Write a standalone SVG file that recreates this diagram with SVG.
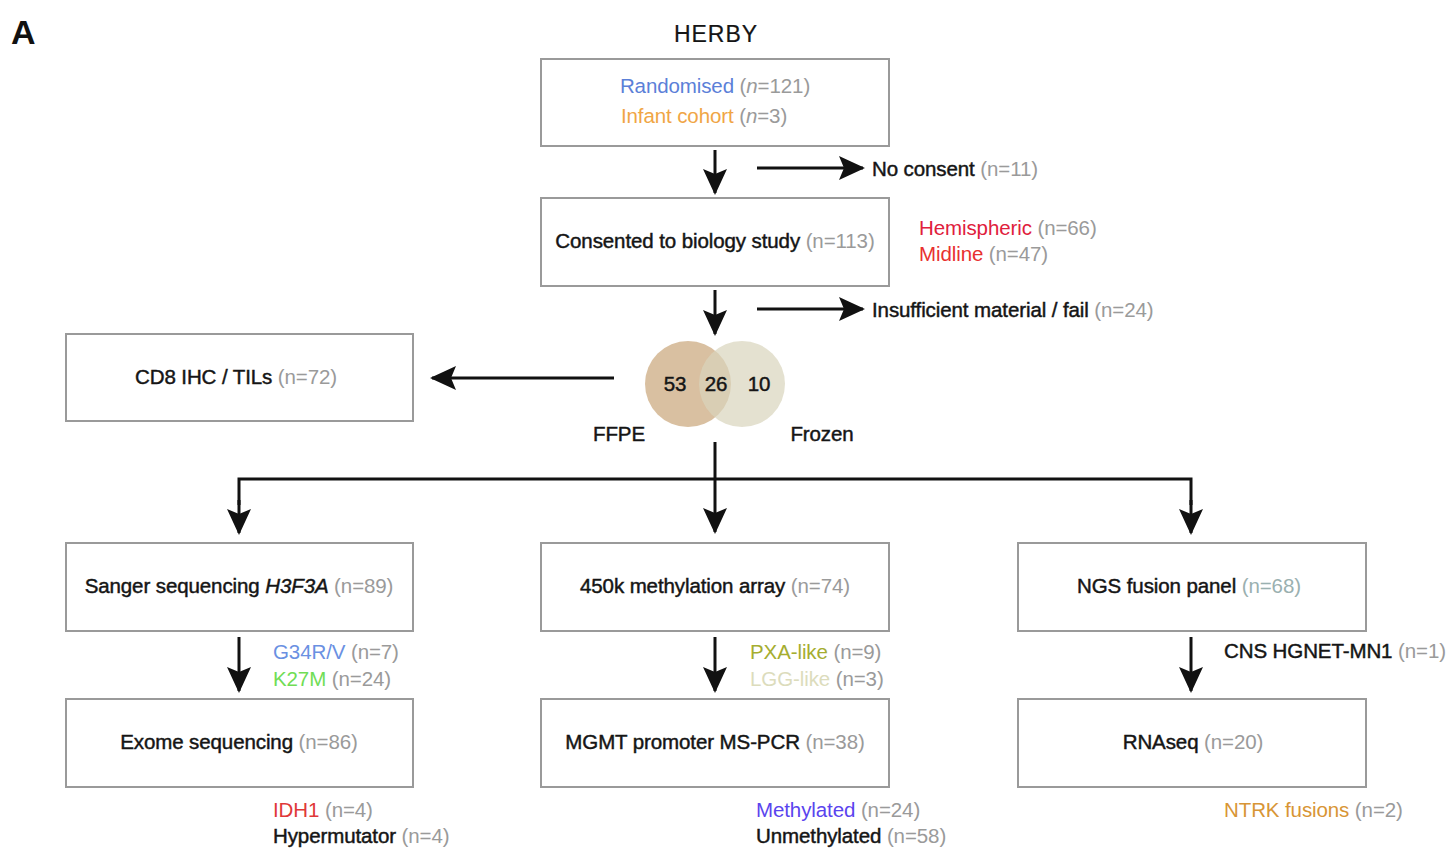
<svg xmlns="http://www.w3.org/2000/svg" width="1450" height="848" viewBox="0 0 1450 848">
<defs>
<marker id="ah" markerUnits="userSpaceOnUse" markerWidth="26" markerHeight="26" viewBox="0 0 26 26" refX="24" refY="13" orient="auto">
<path d="M0,1 L26,13 L0,25 L5,13 Z" fill="#111"/>
</marker>
<style>
.box{fill:#fff;stroke:#9a9a9a;stroke-width:2}
.t{font-family:"Liberation Sans",Arial,sans-serif;font-size:20.5px;fill:#151515;stroke:#151515;stroke-width:0.45px;letter-spacing:-0.1px}
.n{fill:#9a9a9a;stroke:none}
.k{stroke:none}
.c{stroke:#111;stroke-width:3;fill:none}
.ca{stroke:#111;stroke-width:3;fill:none;marker-end:url(#ah)}
</style>
</defs>
<rect width="1450" height="848" fill="#fff"/>
<text x="11" y="44" font-family="Liberation Sans,Arial,sans-serif" font-size="34" font-weight="bold" fill="#111">A</text>
<text x="716" y="42" text-anchor="middle" class="t" style="font-size:23px;letter-spacing:1px;stroke-width:0.2px">HERBY</text>

<g id="connectors">
<line class="ca" x1="715" y1="150" x2="715" y2="193"/>
<line class="ca" x1="757" y1="168" x2="863" y2="168"/>
<line class="ca" x1="715" y1="290" x2="715" y2="334"/>
<line class="ca" x1="757" y1="309" x2="863" y2="309"/>
<line class="ca" x1="614" y1="378" x2="432" y2="378"/>
<line class="ca" x1="715" y1="442" x2="715" y2="532"/>
<polyline class="c" points="239,505 239,479 1191,479 1191,505"/>
<line class="ca" x1="239" y1="500" x2="239" y2="533"/>
<line class="ca" x1="1191" y1="500" x2="1191" y2="533"/>
<line class="ca" x1="239" y1="637" x2="239" y2="691"/>
<line class="ca" x1="715" y1="637" x2="715" y2="691"/>
<line class="ca" x1="1191" y1="637" x2="1191" y2="691"/>
</g>

<g id="herby">
<rect class="box" x="541" y="59" width="348" height="87"/>
<text x="715" y="93" text-anchor="middle" class="t k"><tspan fill="#5b80d8">Randomised</tspan><tspan class="n"> (<tspan font-style="italic">n</tspan>=121)</tspan></text>
<text x="704" y="123" text-anchor="middle" class="t k"><tspan fill="#f0a545">Infant cohort</tspan><tspan class="n"> (<tspan font-style="italic">n</tspan>=3)</tspan></text>
</g>

<g id="noconsent">
<text x="872" y="176" class="t">No consent<tspan class="n"> (n=11)</tspan></text>
</g>

<g id="consented">
<rect class="box" x="541" y="198" width="348" height="88"/>
<text x="715" y="248" text-anchor="middle" class="t">Consented to biology study<tspan class="n"> (n=113)</tspan></text>
</g>

<g id="location">
<text x="919" y="235" class="t k"><tspan fill="#e0203c">Hemispheric</tspan><tspan class="n"> (n=66)</tspan></text>
<text x="919" y="261" class="t k"><tspan fill="#e83030">Midline</tspan><tspan class="n"> (n=47)</tspan></text>
</g>

<g id="insufficient">
<text x="872" y="317" class="t">Insufficient material / fail<tspan class="n"> (n=24)</tspan></text>
</g>

<g id="venn">
<circle cx="688" cy="384" r="43" fill="#cfb089" fill-opacity="0.8"/>
<circle cx="742" cy="384" r="43" fill="#d8d4bc" fill-opacity="0.7"/>
<text x="675" y="391" text-anchor="middle" class="t">53</text>
<text x="716" y="391" text-anchor="middle" class="t">26</text>
<text x="759" y="391" text-anchor="middle" class="t">10</text>
<text x="619" y="441" text-anchor="middle" class="t">FFPE</text>
<text x="822" y="441" text-anchor="middle" class="t">Frozen</text>
</g>

<g id="cd8">
<rect class="box" x="66" y="334" width="347" height="87"/>
<text x="236" y="384" text-anchor="middle" class="t">CD8 IHC / TILs<tspan class="n"> (n=72)</tspan></text>
</g>

<g id="sanger">
<rect class="box" x="66" y="543" width="347" height="88"/>
<text x="239" y="593" text-anchor="middle" class="t">Sanger sequencing <tspan font-style="italic">H3F3A</tspan><tspan class="n"> (n=89)</tspan></text>
</g>

<g id="methylation">
<rect class="box" x="541" y="543" width="348" height="88"/>
<text x="715" y="593" text-anchor="middle" class="t">450k methylation array<tspan class="n"> (n=74)</tspan></text>
</g>

<g id="ngs">
<rect class="box" x="1018" y="543" width="348" height="88"/>
<text x="1189" y="593" text-anchor="middle" class="t">NGS fusion panel<tspan class="n" fill="#9ab0b0" style="fill:#9ab0b0"> (n=68)</tspan></text>
</g>

<g id="h3labels">
<text x="273" y="659" class="t k"><tspan fill="#6a90e2">G34R/V</tspan><tspan class="n"> (n=7)</tspan></text>
<text x="273" y="686" class="t k"><tspan fill="#70dd55">K27M</tspan><tspan class="n"> (n=24)</tspan></text>
</g>
<g id="methlabels">
<text x="750" y="659" class="t k"><tspan fill="#a5ad30">PXA-like</tspan><tspan class="n"> (n=9)</tspan></text>
<text x="750" y="686" class="t k"><tspan fill="#dcdcbc">LGG-like</tspan><tspan class="n"> (n=3)</tspan></text>
</g>
<g id="mn1label">
<text x="1224" y="658" class="t">CNS HGNET-MN1<tspan class="n"> (n=1)</tspan></text>
</g>

<g id="exome">
<rect class="box" x="66" y="699" width="347" height="88"/>
<text x="239" y="749" text-anchor="middle" class="t">Exome sequencing<tspan class="n"> (n=86)</tspan></text>
</g>

<g id="mgmt">
<rect class="box" x="541" y="699" width="348" height="88"/>
<text x="715" y="749" text-anchor="middle" class="t">MGMT promoter MS-PCR<tspan class="n"> (n=38)</tspan></text>
</g>

<g id="rnaseq">
<rect class="box" x="1018" y="699" width="348" height="88"/>
<text x="1193" y="749" text-anchor="middle" class="t">RNAseq<tspan class="n"> (n=20)</tspan></text>
</g>

<g id="exomelabels">
<text x="273" y="817" class="t k"><tspan fill="#e03838">IDH1</tspan><tspan class="n"> (n=4)</tspan></text>
<text x="273" y="843" class="t">Hypermutator<tspan class="n"> (n=4)</tspan></text>
</g>
<g id="mgmtlabels">
<text x="756" y="817" class="t k"><tspan fill="#5a44ee">Methylated</tspan><tspan class="n"> (n=24)</tspan></text>
<text x="756" y="843" class="t">Unmethylated<tspan class="n"> (n=58)</tspan></text>
</g>
<g id="rnalabels">
<text x="1224" y="817" class="t k"><tspan fill="#d89535">NTRK fusions</tspan><tspan class="n"> (n=2)</tspan></text>
</g>
</svg>
